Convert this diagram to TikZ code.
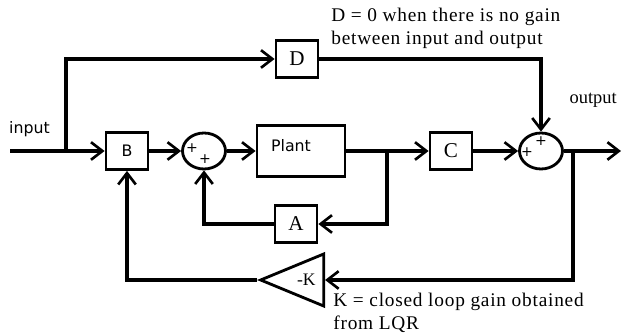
\documentclass[tikz,border=0pt]{standalone}
\usepackage{fontspec}
\setmainfont{Liberation Serif}
\setsansfont{DejaVu Sans}
\newfontfamily\notefont[LetterSpace=4]{Liberation Serif}
\usetikzlibrary{arrows.meta,shapes.geometric}

\begin{document}
\begin{tikzpicture}[x=0.02cm,y=-0.02cm,
  sig/.style={line width=1.8pt,-{Straight Barb[length=6.5pt,width=10pt,line width=1.5pt]}},
  blk/.style={draw,line width=1.6pt,minimum width=0.84cm,minimum height=0.74cm,inner sep=0pt},
  summ/.style={draw,ellipse,line width=1.6pt,minimum width=0.86cm,minimum height=0.72cm,inner sep=0pt},
  pls/.style={font=\sffamily\footnotesize,inner sep=0pt},
  note/.style={font=\notefont\fontsize{11}{13}\selectfont,align=left,anchor=north west,inner sep=0pt}]
\useasboundingbox (0,0) rectangle (623,333);

% blocks
\node [blk,font=\sffamily\small] (bblk) at (127,151) {B};
\node [summ] (sum1) at (204,151) {};
\node [blk,minimum width=1.76cm,minimum height=1.02cm,
  label={[font=\sffamily\small,anchor=north,xshift=-0.2cm,yshift=-5pt]north:Plant}] (plant) at (301,151) {};
\node [blk,font=\large] (cblk) at (451,151) {C};
\node [summ] (sum2) at (541,151) {};
\node [blk,font=\large] (dblk) at (297,59) {D};
\node [blk,font=\large] (ablk) at (296,224) {A};
\node [draw,line width=1.6pt,isosceles triangle,isosceles triangle stretches,shape border rotate=180,
  minimum width=1.04cm,minimum height=1.26cm,inner sep=1pt,anchor=apex] (kblk) at (257,280) {-K};

% signs
\node [pls] (s1a) at (192,148) {+};
\node [pls] (s1b) at (205,159) {+};
\node [pls] (s2a) at (527,152) {+};
\node [pls] (s2b) at (541,141) {+};

% branch points
\coordinate (inp) at (10,151);
\coordinate (split) at (66,151);
\coordinate (tapp) at (387,151);
\coordinate (tapo) at (573,151);
\coordinate (outp) at (621,151);

% signals
\draw [sig] (inp) -- (bblk);
\draw [sig] (split) |- (dblk);
\draw [sig] (bblk) -- (sum1);
\draw [sig] (sum1) -- (plant);
\draw [sig] (plant) -- (cblk);
\draw [sig] (cblk) -- (sum2);
\draw [sig] (sum2) -- (outp);
\draw [sig] (dblk) -| (sum2);
\draw [sig] (tapp) |- (ablk);
\draw [sig] (ablk) -| (sum1);
\draw [sig] (tapo) |- (kblk);
\draw [sig] (kblk.apex) -| (bblk);

% texts
\node [font=\sffamily\small,anchor=west] (inlbl) at (3,129) {input};
\node [font=\fontsize{10.5}{13}\selectfont,anchor=east] (outlbl) at (623,100) {output};
\node [note] (dnote) at (331,8) {D = 0 when there is no gain\\between input and output};
\node [note] (knote) at (333,293) {K = closed loop gain obtained\\from LQR};
\end{tikzpicture}
\end{document}
